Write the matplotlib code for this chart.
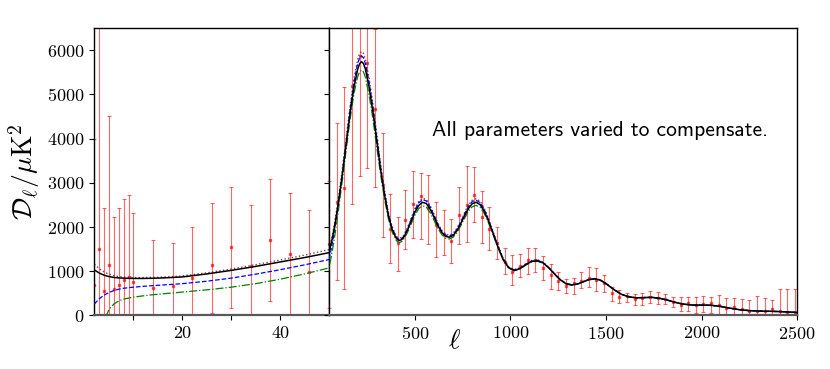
import matplotlib.pyplot as plt
import numpy as np

plt.rcParams['font.family'] = 'serif'
plt.rcParams['font.serif'] = ['cmr10']
plt.rcParams['mathtext.fontset'] = 'cm'
plt.rcParams['axes.formatter.use_mathtext'] = True

# binned band powers: multipole, value, bottom and top of error bar
ell_data = [2, 3, 4, 5, 6, 7, 8, 9, 10, 14, 18, 22, 26, 30, 34, 38, 42, 46, 50,
            90, 130, 170, 210, 250, 290, 330, 370, 410, 450, 490, 530, 570, 610,
            650, 690, 730, 770, 810, 850, 890, 930, 970, 1010, 1050, 1090, 1130,
            1170, 1210, 1250, 1290, 1330, 1370, 1410, 1450, 1490, 1530, 1570,
            1610, 1650, 1690, 1730, 1770, 1810, 1850, 1890, 1930, 1970, 2010,
            2050, 2090, 2130, 2170, 2210, 2250, 2290, 2330, 2370, 2410, 2450, 2490]
dl_data = [700, 1500, 550, 1150, 610, 690, 800, 860, 760, 620, 660, 850, 1150, 1550,
           1120, 1710, 1400, 985, 1610,
           2566, 2883, 5192, 5872, 5713, 4679, 2943, 1962, 1638, 2166, 2513, 2702,
           2438, 2045, 1849, 1691, 2279, 2506, 2717, 2226, 1962, 1638, 1218, 992,
           1120, 1256, 1256, 1082, 916, 781, 675, 728, 781, 856, 803, 728, 501,
           426, 441, 366, 388, 426, 403, 373, 313, 238, 275, 238, 253, 275, 238,
           162, 200, 140, 102, 102, 102, 140, 109, 87, 64]
dl_low = [-500, -3000, -500, -500, -300, -300, -200, -200, -100, -100, -100, 0, 60,
          170, -200, 330, 10, -300, 175,
          792, 604, 2528, 3155, 3336, 2906, 1774, 1192, 1004, 1494, 1751, 1721,
          1608, 1328, 1358, 1177, 1623, 1660, 2113, 1638, 1472, 1268, 939, 690,
          863, 946, 992, 803, 600, 577, 517, 486, 615, 637, 554, 539, 328, 275,
          313, 238, 238, 290, 260, 253, 200, 109, 109, 49, 72, 49, 11, 11, -20,
          -40, -60, -80, -80, -80, -100, -100, -100]
dl_high = [4000, 9000, 2430, 4500, 2230, 2440, 2640, 2720, 2320, 1700, 1650, 2010,
           2550, 2900, 2490, 3080, 2780, 2390, 3030,
           4355, 5170, 7800, 8500, 8200, 6468, 4128, 2740, 2226, 2830, 3268, 3230,
           3170, 2566, 2392, 2189, 2906, 3374, 3358, 2815, 2453, 2000, 1520, 1369,
           1384, 1535, 1520, 1346, 1165, 977, 826, 856, 992, 1105, 1067, 916, 637,
           569, 501, 486, 517, 562, 539, 486, 411, 426, 426, 426, 441, 426, 464,
           388, 388, 373, 350, 441, 403, 350, 592, 592, 592]

# model spectra
ell_model = [2, 3, 4, 5, 6, 7, 8, 9, 10, 12, 14, 16, 18, 20, 25, 30, 35, 40, 45,
             50, 60, 70, 80, 90, 100, 120, 140, 160, 180, 200, 210, 220, 230, 240,
             260, 280, 300, 320, 340, 360, 380, 400, 410, 420, 430, 440, 460, 480,
             500, 520, 540, 560, 580, 600, 620, 640, 660, 680, 700, 720, 740, 760,
             780, 800, 820, 840, 860, 880, 900, 930, 960, 990, 1020, 1050, 1080,
             1110, 1140, 1170, 1200, 1230, 1260, 1290, 1320, 1350, 1380, 1410,
             1440, 1470, 1500, 1540, 1580, 1620, 1660, 1700, 1740, 1780, 1820,
             1860, 1900, 1950, 2000, 2050, 2100, 2150, 2200, 2250, 2300, 2350,
             2400, 2450, 2500]
dl_best = [1030, 960, 910, 880, 860, 850, 845, 840, 838, 838, 842, 850, 860, 872,
           940, 1020, 1110, 1210, 1310,
           1420, 1600, 1800, 2040, 2300, 2580, 3200, 3880, 4560, 5150, 5570, 5690,
           5740, 5700, 5580, 5160, 4600, 3950, 3300, 2740, 2270, 1950, 1760, 1710,
           1700, 1715, 1760, 1920, 2130, 2340, 2490, 2560, 2530, 2400, 2220, 2030,
           1880, 1790, 1770, 1810, 1920, 2080, 2260, 2420, 2530, 2560, 2510, 2380,
           2190, 1960, 1600, 1280, 1080, 1020, 1060, 1150, 1220, 1240, 1190, 1080,
           940, 810, 720, 690, 710, 760, 810, 830, 800, 720, 590, 480, 420, 400,
           405, 410, 390, 350, 300, 260, 235, 235, 230, 205, 165, 130, 110, 100,
           95, 90, 80, 70]
dl_dotted = [1160, 1060, 985, 935, 900, 880, 868, 862, 858, 858, 862, 870, 880, 895,
             965, 1050, 1150, 1255, 1365,
             1490, 1670, 1880, 2120, 2390, 2680, 3320, 4020, 4730, 5350, 5790, 5920,
             5970, 5930, 5800, 5360, 4780, 4100, 3420, 2840, 2350, 2010, 1810, 1760,
             1750, 1765, 1810, 1980, 2200, 2420, 2580, 2650, 2620, 2480, 2290, 2090,
             1930, 1840, 1815, 1860, 1975, 2140, 2330, 2500, 2610, 2640, 2590, 2450,
             2250, 2010, 1640, 1310, 1100, 1040, 1080, 1170, 1245, 1265, 1210, 1095,
             950, 820, 728, 697, 717, 768, 818, 838, 808, 727, 595, 484, 423, 403,
             408, 413, 392, 352, 302, 262, 237, 237, 232, 207, 166, 131, 111, 101,
             96, 91, 81, 71]
dl_blue = [260, 380, 460, 520, 565, 595, 615, 630, 640, 660, 675, 690, 705, 720,
           775, 845, 935, 1035, 1145,
           1265, 1470, 1700, 1960, 2250, 2560, 3220, 3930, 4640, 5260, 5700, 5820,
           5870, 5830, 5700, 5270, 4700, 4030, 3360, 2790, 2310, 1980, 1785, 1735,
           1725, 1740, 1785, 1950, 2170, 2390, 2550, 2620, 2590, 2450, 2260, 2060,
           1905, 1815, 1795, 1835, 1950, 2115, 2300, 2465, 2580, 2605, 2555, 2420,
           2220, 1985, 1620, 1295, 1090, 1030, 1070, 1158, 1228, 1248, 1198, 1086,
           945, 814, 723, 693, 713, 763, 813, 833, 803, 722, 592, 481, 421, 401,
           406, 411, 391, 351, 301, 261, 236, 236, 231, 206, 165, 130, 110, 100,
           95, 90, 80, 70]
dl_green = [-900, -450, -120, 140, 260, 330, 370, 395, 415, 445, 470, 490, 510, 530,
            580, 640, 720, 820, 940,
            1075, 1290, 1530, 1800, 2090, 2400, 3060, 3750, 4430, 5010, 5400, 5510,
            5550, 5510, 5390, 4980, 4440, 3810, 3190, 2650, 2200, 1890, 1710, 1665,
            1655, 1670, 1715, 1870, 2070, 2270, 2420, 2480, 2450, 2320, 2150, 1970,
            1830, 1745, 1730, 1770, 1875, 2030, 2200, 2360, 2460, 2490, 2450, 2330,
            2150, 1930, 1580, 1265, 1070, 1010, 1050, 1140, 1210, 1230, 1182, 1074,
            935, 806, 717, 687, 707, 757, 806, 826, 797, 717, 588, 478, 419, 399,
            404, 409, 389, 349, 299, 259, 234, 234, 229, 204, 164, 129, 109, 99,
            94, 89, 79, 69]

yticks = [0, 1000, 2000, 3000, 4000, 5000, 6000]

ell_data = np.array(ell_data)
dl_data = np.array(dl_data)
yerr = [dl_data - np.array(dl_low), np.array(dl_high) - dl_data]

fig = plt.figure(figsize=(8.3, 3.69), dpi=100)
ax1 = fig.add_axes([0.1137, 0.145, 0.2827, 0.779])
ax2 = fig.add_axes([0.3964, 0.145, 0.5639, 0.779])

for ax in (ax1, ax2):
    ax.errorbar(ell_data, dl_data, yerr=yerr, fmt='s', color='red', ms=1.6,
                ecolor='red', elinewidth=0.8, capsize=1.5, capthick=0.8,
                alpha=0.6, zorder=1)
    ax.plot(ell_model, dl_dotted, ':', color='#8a3c3c', lw=1.0, zorder=2)
    ax.plot(ell_model, dl_green, '-.', color='green', lw=0.9, zorder=3)
    ax.plot(ell_model, dl_blue, '--', color='blue', lw=0.9, zorder=3)
    ax.plot(ell_model, dl_best, '-', color='black', lw=1.1, zorder=4)
    ax.set_ylim(0, 6500)
    ax.set_yticks(yticks)
    ax.tick_params(labelsize=13)
    for s in ('top', 'left', 'right'):
        ax.spines[s].set_linewidth(1.0)
    ax.spines['bottom'].set_color('0.35')
    ax.spines['bottom'].set_linewidth(1.6)

ax1.set_xlim(2, 50)
ax1.set_xticks([10, 20, 30, 40])
ax1.set_xticklabels(['', '20', '', '40'])
ax1.set_ylabel(r'$\mathcal{D}_\ell/\mu{\rm K}^2$', fontsize=20)

ax2.set_xlim(50, 2500)
ax2.set_xticks([500, 1000, 1500, 2000, 2500])
ax2.tick_params(labelleft=False)
ax2.text(590, 4180, 'All parameters varied to compensate.', family='cmss10',
         fontsize=15.5, va='center', ha='left')

fig.text(0.548, 0.075, r'$\ell$', fontsize=20, ha='center', va='center')

fig.savefig('out.png', dpi=100)
